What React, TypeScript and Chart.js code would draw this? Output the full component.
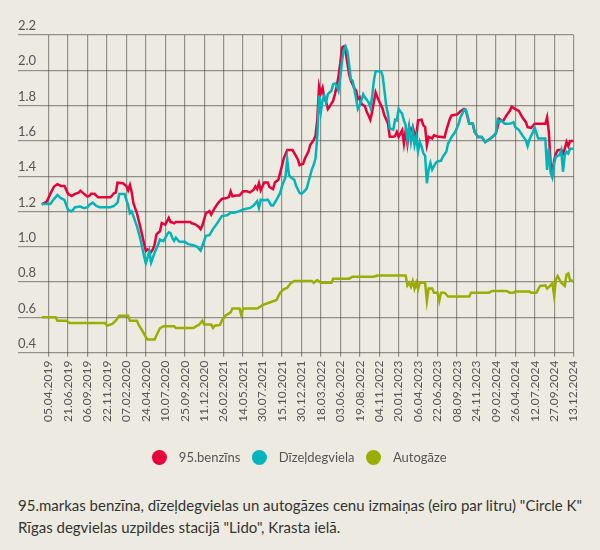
import React, { useEffect, useRef } from "react";
import { Chart, registerables } from "chart.js";

Chart.register(...registerables);

// weeks counted from 05.04.2019
const tickWeeks = [0, 11, 22, 33, 44, 55, 66, 77, 88, 99, 110, 121, 132, 143, 154, 165, 176, 187, 198, 209, 220, 231, 242, 253, 264, 275, 286, 297];
const tickLabels = ["05.04.2019", "21.06.2019", "06.09.2019", "22.11.2019", "07.02.2020", "24.04.2020", "10.07.2020", "25.09.2020", "11.12.2020", "26.02.2021", "14.05.2021", "30.07.2021", "15.10.2021", "30.12.2021", "18.03.2022", "03.06.2022", "19.08.2022", "04.11.2022", "20.01.2023", "06.04.2023", "22.06.2023", "08.09.2023", "24.11.2023", "09.02.2024", "26.04.2024", "12.07.2024", "27.09.2024", "13.12.2024"];

const seriesNames = ["95.benzīns", "Dīzeļdegviela", "Autogāze"];

const petrolWeeks = [-4, -1, 1, 3, 5, 7, 9, 11, 13, 15, 17, 18, 20, 22, 23, 24, 26, 28, 35, 37, 38, 39, 42, 44, 45, 46, 47, 48, 50, 52, 54, 55, 56, 58, 59, 60, 61, 63, 64, 66, 68, 69, 70, 71, 72, 75, 80, 81, 83, 85, 86, 87, 89, 91, 92, 94, 96, 98, 101, 102, 103, 104, 106, 108, 110, 112, 114, 116, 117, 118, 119, 120, 122, 124, 125, 127, 128, 130, 132, 133, 135, 138, 140, 141, 142, 144, 145, 147, 148, 150, 151, 152, 153, 154, 155, 156, 157, 158, 159, 161, 162, 163, 164, 165, 166, 167, 168, 169, 170, 171, 173, 174, 175, 176, 177, 179, 180, 181, 182, 183, 184, 185, 186, 187, 189, 190, 192, 193, 195, 196, 197, 198, 200, 201, 202, 203, 204, 205, 206, 207, 208, 209, 211, 212, 213, 214, 215, 217, 218, 220, 224, 225, 227, 228, 231, 233, 235, 236, 237, 238, 240, 241, 243, 245, 247, 249, 251, 253, 254, 255, 256, 257, 259, 261, 262, 264, 266, 268, 270, 271, 273, 275, 281, 282, 283, 284, 285, 286, 287, 288, 290, 291, 292, 293, 294, 295, 297];
const petrolPrices = [1.24, 1.256, 1.3, 1.34, 1.355, 1.345, 1.345, 1.3, 1.288, 1.3, 1.307, 1.318, 1.3, 1.284, 1.288, 1.3, 1.3, 1.28, 1.28, 1.303, 1.307, 1.363, 1.36, 1.344, 1.32, 1.35, 1.31, 1.247, 1.19, 1.107, 1.02, 0.976, 0.985, 0.97, 0.985, 1.013, 1.07, 1.088, 1.134, 1.125, 1.163, 1.14, 1.138, 1.133, 1.14, 1.14, 1.14, 1.133, 1.127, 1.112, 1.1, 1.122, 1.19, 1.202, 1.183, 1.22, 1.249, 1.271, 1.277, 1.282, 1.314, 1.286, 1.29, 1.29, 1.314, 1.314, 1.308, 1.323, 1.342, 1.327, 1.36, 1.32, 1.364, 1.364, 1.338, 1.327, 1.364, 1.38, 1.458, 1.5, 1.548, 1.548, 1.514, 1.495, 1.463, 1.47, 1.5, 1.54, 1.577, 1.605, 1.63, 1.72, 1.91, 1.87, 1.9, 1.84, 1.82, 1.78, 1.794, 1.828, 1.865, 1.91, 1.967, 2.04, 2.129, 2.135, 2.107, 2.042, 1.977, 1.94, 1.899, 1.884, 1.837, 1.847, 1.81, 1.795, 1.763, 1.744, 1.72, 1.763, 1.819, 1.874, 1.847, 1.824, 1.781, 1.744, 1.698, 1.623, 1.623, 1.627, 1.651, 1.623, 1.66, 1.586, 1.66, 1.586, 1.679, 1.651, 1.679, 1.642, 1.623, 1.716, 1.72, 1.688, 1.679, 1.577, 1.623, 1.614, 1.632, 1.625, 1.62, 1.66, 1.725, 1.744, 1.749, 1.768, 1.781, 1.776, 1.734, 1.697, 1.697, 1.65, 1.622, 1.622, 1.594, 1.607, 1.622, 1.641, 1.678, 1.725, 1.716, 1.71, 1.744, 1.772, 1.794, 1.78, 1.77, 1.734, 1.706, 1.678, 1.674, 1.697, 1.697, 1.734, 1.65, 1.47, 1.42, 1.49, 1.528, 1.547, 1.55, 1.528, 1.556, 1.594, 1.57, 1.6, 1.6];

const dieselWeeks = [-4, 1, 3, 5, 7, 9, 11, 13, 15, 18, 20, 22, 23, 25, 27, 29, 35, 37, 39, 40, 43, 44, 45, 46, 47, 48, 50, 52, 54, 55, 56, 57, 58, 60, 62, 63, 65, 67, 68, 69, 70, 71, 72, 74, 77, 79, 82, 84, 86, 87, 89, 91, 93, 95, 98, 101, 103, 105, 108, 110, 114, 116, 118, 119, 120, 122, 124, 126, 127, 129, 131, 132, 134, 135, 136, 137, 139, 140, 142, 143, 144, 146, 147, 149, 150, 151, 152, 153, 154, 155, 156, 157, 158, 160, 161, 162, 163, 164, 165, 166, 167, 168, 169, 170, 171, 172, 173, 174, 175, 176, 178, 179, 181, 182, 183, 184, 185, 188, 189, 190, 191, 192, 193, 195, 196, 197, 198, 200, 201, 202, 203, 204, 205, 206, 207, 208, 209, 210, 211, 212, 213, 214, 215, 216, 217, 219, 220, 222, 223, 225, 226, 228, 230, 232, 233, 234, 235, 236, 237, 238, 240, 241, 243, 245, 247, 249, 251, 253, 254, 255, 256, 258, 261, 263, 264, 266, 268, 270, 271, 272, 274, 275, 277, 281, 282, 283, 284, 285, 286, 287, 289, 290, 291, 292, 293, 294, 295, 297];
const dieselPrices = [1.243, 1.243, 1.27, 1.293, 1.275, 1.265, 1.209, 1.2, 1.224, 1.228, 1.219, 1.224, 1.237, 1.25, 1.232, 1.224, 1.224, 1.232, 1.25, 1.299, 1.299, 1.265, 1.237, 1.19, 1.2, 1.172, 1.116, 1.041, 0.948, 0.907, 0.938, 0.976, 0.91, 0.966, 1.013, 1.041, 1.032, 1.069, 1.082, 1.077, 1.05, 1.034, 1.052, 1.028, 1.028, 1.015, 1.009, 1.0, 0.978, 1.006, 1.062, 1.066, 1.1, 1.127, 1.174, 1.178, 1.193, 1.193, 1.202, 1.211, 1.22, 1.234, 1.258, 1.22, 1.267, 1.264, 1.267, 1.234, 1.234, 1.267, 1.305, 1.342, 1.394, 1.495, 1.407, 1.394, 1.38, 1.346, 1.305, 1.3, 1.307, 1.33, 1.367, 1.44, 1.465, 1.5, 1.62, 1.856, 1.763, 1.83, 1.856, 1.819, 1.865, 1.884, 1.921, 1.925, 1.912, 1.884, 1.958, 2.051, 2.116, 2.135, 2.107, 2.033, 1.949, 1.94, 1.888, 1.837, 1.781, 1.8, 1.865, 1.847, 1.819, 1.791, 1.847, 1.94, 1.995, 1.995, 1.967, 1.884, 1.8, 1.753, 1.67, 1.664, 1.72, 1.716, 1.781, 1.753, 1.716, 1.688, 1.605, 1.679, 1.595, 1.66, 1.577, 1.623, 1.54, 1.595, 1.567, 1.53, 1.516, 1.36, 1.437, 1.475, 1.437, 1.475, 1.484, 1.487, 1.51, 1.538, 1.585, 1.622, 1.65, 1.697, 1.734, 1.753, 1.776, 1.776, 1.744, 1.697, 1.697, 1.65, 1.622, 1.622, 1.594, 1.607, 1.622, 1.641, 1.72, 1.706, 1.716, 1.697, 1.697, 1.706, 1.678, 1.663, 1.631, 1.603, 1.57, 1.607, 1.65, 1.674, 1.613, 1.613, 1.435, 1.556, 1.42, 1.393, 1.472, 1.51, 1.519, 1.547, 1.425, 1.519, 1.538, 1.528, 1.556, 1.556];

const lpgWeeks = [-4, 4, 5, 10, 12, 32, 33, 36, 38, 40, 45, 46, 50, 51, 53, 55, 56, 60, 61, 63, 65, 71, 72, 82, 84, 85, 87, 88, 92, 93, 94, 97, 98, 100, 103, 104, 108, 109, 110, 118, 120, 121, 125, 129, 131, 133, 135, 137, 139, 149, 150, 152, 154, 160, 161, 170, 172, 184, 186, 202, 203, 204, 205, 206, 207, 208, 209, 210, 213, 214, 215, 217, 218, 220, 221, 222, 224, 226, 238, 239, 249, 251, 259, 261, 263, 264, 272, 273, 276, 278, 281, 282, 284, 285, 286, 287, 288, 290, 291, 292, 293, 294, 295, 297];
const lpgPrices = [0.6, 0.6, 0.581, 0.581, 0.568, 0.568, 0.553, 0.563, 0.581, 0.609, 0.609, 0.581, 0.581, 0.557, 0.525, 0.488, 0.475, 0.475, 0.497, 0.538, 0.55, 0.55, 0.54, 0.54, 0.553, 0.557, 0.581, 0.559, 0.559, 0.54, 0.553, 0.557, 0.581, 0.609, 0.628, 0.65, 0.65, 0.613, 0.65, 0.65, 0.662, 0.669, 0.684, 0.699, 0.74, 0.759, 0.768, 0.793, 0.806, 0.806, 0.796, 0.811, 0.796, 0.796, 0.819, 0.819, 0.83, 0.83, 0.837, 0.837, 0.781, 0.796, 0.774, 0.806, 0.763, 0.796, 0.759, 0.796, 0.796, 0.693, 0.763, 0.763, 0.74, 0.74, 0.693, 0.74, 0.74, 0.718, 0.718, 0.74, 0.74, 0.75, 0.75, 0.74, 0.74, 0.746, 0.746, 0.74, 0.74, 0.778, 0.781, 0.763, 0.781, 0.793, 0.722, 0.815, 0.834, 0.796, 0.787, 0.778, 0.843, 0.849, 0.811, 0.806];

const colors = ["#e5003c", "#00b4b9", "#9aad00"];
const FONT = "Lato";

function toPoints(weeks: number[], values: number[]) {
  return weeks.map((w, i) => ({ x: w, y: values[i] }));
}

function dot(color: string) {
  const c = document.createElement("canvas");
  c.width = 15;
  c.height = 15;
  const ctx = c.getContext("2d");
  if (ctx) {
    ctx.fillStyle = color;
    ctx.beginPath();
    ctx.arc(7.5, 7.5, 7.5, 0, Math.PI * 2);
    ctx.fill();
  }
  return c;
}

export default function App() {
  const canvasRef = useRef<HTMLCanvasElement | null>(null);

  useEffect(() => {
    document.body.style.backgroundColor = "#edebe1";
    const canvas = canvasRef.current;
    if (!canvas) return;
    const gridColor = "rgba(70,70,65,0.55)";
    const orders = [2, 1, 0];
    const weeks = [petrolWeeks, dieselWeeks, lpgWeeks];
    const prices = [petrolPrices, dieselPrices, lpgPrices];
    const chart = new Chart(canvas, {
      type: "line",
      data: {
        datasets: seriesNames.map((name, i) => ({
          label: name,
          data: toPoints(weeks[i], prices[i]),
          borderColor: colors[i],
          backgroundColor: colors[i],
          pointStyle: dot(colors[i]),
          order: orders[i],
          borderWidth: 2.5,
          pointRadius: 0,
          tension: 0,
          fill: false,
        })),
      },
      options: {
        animation: false,
        responsive: true,
        maintainAspectRatio: false,
        layout: { padding: { left: 10, right: 17, top: 27, bottom: 0 } },
        plugins: {
          tooltip: { enabled: false },
          legend: {
            position: "bottom",
            labels: {
              usePointStyle: true,
              pointStyleWidth: 26,
              boxHeight: 13,
              padding: 6,
              color: "#555",
              font: { family: FONT, size: 13 },
              sort: (a: any, b: any) => a.datasetIndex - b.datasetIndex,
            },
          },
        },
        scales: {
          x: {
            type: "linear",
            min: -4,
            max: 297,
            afterBuildTicks: (scale: any) => {
              scale.ticks = tickWeeks.map((v) => ({ value: v }));
            },
            afterFit: (scale: any) => {
              scale.height += 19;
            },
            ticks: {
              autoSkip: false,
              minRotation: 90,
              maxRotation: 90,
              padding: 4,
              color: "#555",
              font: { family: FONT, size: 12 },
              callback: (v: any) => {
                const i = tickWeeks.indexOf(Number(v));
                return i >= 0 ? tickLabels[i] : "";
              },
            },
            grid: { color: gridColor, lineWidth: 1.2, tickLength: 4 },
            border: { display: false },
          },
          y: {
            min: 0.4,
            max: 2.2,
            afterFit: (scale: any) => {
              scale.width = 23.5;
            },
            ticks: {
              stepSize: 0.2,
              crossAlign: "far",
              labelOffset: -9,
              padding: 0,
              color: "#555",
              font: { family: FONT, size: 13 },
              callback: (v: any) => Number(v).toFixed(1),
            },
            grid: { color: gridColor, lineWidth: 1.2, tickLength: 23.5 },
            border: { display: false },
          },
        },
      },
    } as any);
    return () => chart.destroy();
  }, []);

  return (
    <div style={{ width: 584 }}>
      <div style={{ position: "relative", height: 466 }}>
        <canvas ref={canvasRef} />
      </div>
      <div
        style={{
          fontFamily: FONT,
          fontSize: 15,
          lineHeight: "22px",
          color: "#333",
          marginLeft: 10,
          marginTop: 20,
          whiteSpace: "nowrap",
        }}
      >
        95.markas benzīna, dīzeļdegvielas un autogāzes cenu izmaiņas (eiro par litru) "Circle K"
        <br />
        Rīgas degvielas uzpildes stacijā "Lido", Krasta ielā.
      </div>
    </div>
  );
}
